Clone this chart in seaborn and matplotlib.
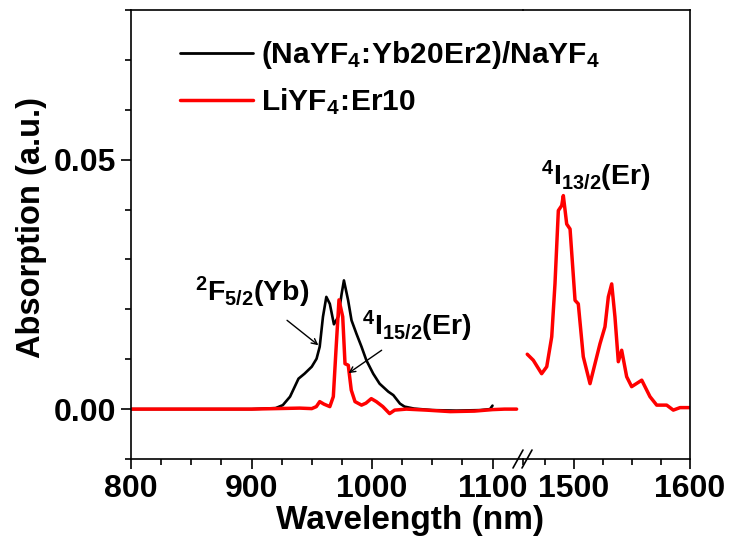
import matplotlib
matplotlib.use("Agg")
import matplotlib.pyplot as plt
import seaborn as sns
import pandas as pd
from matplotlib.lines import Line2D
from matplotlib.ticker import MultipleLocator

# ---------------- data ----------------
black_wl = [800, 850, 900, 920, 926, 932, 939, 944, 950, 954, 956.6, 959.3, 962.1, 965, 968.4,
            972, 974.8, 976.7, 980.2, 983, 987.1, 991.3, 995.3, 1001, 1006.3, 1013.5, 1017.7,
            1023.2, 1027, 1035, 1050, 1070, 1090, 1098, 1100]
black_abs = [0.0, 0.0, 0.0, 0.0002, 0.0008, 0.0025, 0.0061, 0.0071, 0.0085, 0.0101, 0.0125, 0.0185,
             0.0225, 0.0211, 0.0170, 0.0185, 0.0231, 0.0258, 0.0218, 0.0178, 0.0151, 0.0125, 0.0098,
             0.0071, 0.0051, 0.0035, 0.0028, 0.0011, 0.0005, 0.0001, -0.0002, -0.0003, -0.0002, 0.0, 0.0007]

red_left_wl = [800, 850, 900, 940, 950, 953.8, 956.6, 960.1, 965, 967.9, 970.1, 972.6, 975.7, 977.6,
               980.3, 982.8, 985.9, 991.3, 995, 999.4, 1003.6, 1009, 1014.6, 1018.8, 1028.5, 1045,
               1065, 1085, 1100, 1110, 1120]
red_left_abs = [0.0, 0.0, 0.0, 0.0002, 0.0001, 0.0005, 0.0015, 0.0010, 0.0005, 0.0025, 0.0118, 0.0219,
                0.0185, 0.0091, 0.0088, 0.0038, 0.0015, 0.0008, 0.0012, 0.0021, 0.0015, 0.0005, -0.0009,
                -0.0002, 0.0, -0.0002, -0.0005, -0.0004, -0.0001, 0.0, 0.0]

red_right_wl = [1459.7, 1464.9, 1472.1, 1476.5, 1480.8, 1483.6, 1486.5, 1489.4, 1490.8, 1493.7, 1496.6,
                1500.9, 1503.7, 1508, 1513.8, 1518.1, 1522.4, 1526.7, 1529.6, 1532.5, 1535.3, 1538.2,
                1541.1, 1545.4, 1549.7, 1558.4, 1565.5, 1571.3, 1579.9, 1585.6, 1591.4, 1600]
red_right_abs = [0.0110, 0.0098, 0.0071, 0.0085, 0.0145, 0.0251, 0.0398, 0.0408, 0.0428, 0.0371, 0.0361,
                 0.0218, 0.0211, 0.0105, 0.0051, 0.0091, 0.0131, 0.0165, 0.0225, 0.0251, 0.0185, 0.0095,
                 0.0118, 0.0065, 0.0045, 0.0058, 0.0025, 0.0008, 0.0008, -0.0002, 0.0003, 0.0003]

label_black = r'$\mathbf{(NaYF_4\!:\!Yb20Er2)/NaYF_4}$'
label_red = r'$\mathbf{LiYF_4\!:\!Er10}$'
left_ticks = [800, 900, 1000, 1100]
right_ticks = [1500, 1600]
y_ticks = [0.00, 0.05]

# ---------------- style ----------------
sns.set_style("ticks")
plt.rcParams['font.family'] = ['Liberation Sans', 'DejaVu Sans']
plt.rcParams['font.weight'] = 'bold'
plt.rcParams['mathtext.fontset'] = 'custom'
plt.rcParams['mathtext.rm'] = 'Liberation Sans:bold'
plt.rcParams['mathtext.bf'] = 'Liberation Sans:bold'
plt.rcParams['mathtext.it'] = 'Liberation Sans:bold'
plt.rcParams['mathtext.default'] = 'bf'
for k in ('text.color', 'axes.labelcolor', 'xtick.color', 'ytick.color', 'axes.edgecolor'):
    plt.rcParams[k] = 'black'

W, H = 730, 541
fig = plt.figure(figsize=(W / 100, H / 100), dpi=100)

x0, xb, x1 = 131, 523, 690
ybot, ytop = 459, 10
axR = fig.add_axes([xb / W, (H - ybot) / H, (x1 - xb) / W, (ybot - ytop) / H])
axL = fig.add_axes([x0 / W, (H - ybot) / H, (xb - x0) / W, (ybot - ytop) / H], sharey=axR)
axL.set_zorder(3)
axL.patch.set_visible(False)

df_black = pd.DataFrame({"wl": black_wl, "a": black_abs})
df_redL = pd.DataFrame({"wl": red_left_wl, "a": red_left_abs})
df_redR = pd.DataFrame({"wl": red_right_wl, "a": red_right_abs})

sns.lineplot(data=df_black, x="wl", y="a", ax=axL, color="black", lw=1.9, label=label_black, sort=False)
sns.lineplot(data=df_redL, x="wl", y="a", ax=axL, color="#ff0000", lw=2.5, label=label_red, sort=False)
sns.lineplot(data=df_redR, x="wl", y="a", ax=axR, color="#ff0000", lw=2.5, sort=False, legend=False)

axL.set_xlim(800, 800 + (xb - x0) / 1.205)
axR.set_xlim(1600 - (x1 - xb) / 1.16, 1600)
axL.set_ylim(-0.01, 0.08)

for ax in (axL, axR):
    for s in ax.spines.values():
        s.set_linewidth(1.2)
        s.set_color("black")
    ax.tick_params(axis='both', which='major', direction='out', length=7, width=1.2,
                   labelsize=23, colors='black')
    ax.tick_params(axis='both', which='minor', direction='out', length=4, width=1.2)
    ax.set_xlabel("")
    ax.set_ylabel("")

axL.spines['right'].set_visible(False)
axR.spines['left'].set_visible(False)
axR.tick_params(axis='y', which='both', left=False, labelleft=False)

axL.set_xticks(left_ticks)
axL.xaxis.set_minor_locator(MultipleLocator(25))
axR.set_xticks(right_ticks)
axR.xaxis.set_minor_locator(MultipleLocator(25))
axL.set_yticks(y_ticks)
axL.set_yticklabels(["0.00", "0.05"])
axL.yaxis.set_minor_locator(MultipleLocator(0.01))
for lab in axL.get_xticklabels() + axR.get_xticklabels() + axL.get_yticklabels():
    lab.set_fontweight('bold')

fig.text(32 / W, 1 - 228 / H, "Absorption (a.u.)", fontsize=23.5, fontweight='bold',
         rotation=90, ha='center', va='center')
fig.text(410 / W, 1 - 520 / H, "Wavelength (nm)", fontsize=24, fontweight='bold',
         ha='center', va='center')

leg = axL.legend(loc='upper left', bbox_to_anchor=(180 / W, 1 - 39 / H),
                 bbox_transform=fig.transFigure, frameon=False, fontsize=21.5,
                 handlelength=2.45, handletextpad=0.27, labelspacing=0.52, borderaxespad=0,
                 borderpad=0)
for h in leg.get_lines():
    h.set_linewidth(2.5 if h.get_color() != 'black' else 2.0)

# annotations
axL.text(900.4, 0.0233, r'${}^{2}F_{5/2}(Yb)$', fontsize=20.5, ha='center', va='center')
axL.annotate('', xy=(955.5, 0.0128), xytext=(929.5, 0.0178),
             arrowprops=dict(arrowstyle='->', color='black', lw=1.0, shrinkA=0, shrinkB=0))
axL.text(1037.3, 0.0166, r'${}^{4}I_{15/2}(Er)$', fontsize=20.5, ha='center', va='center')
axL.annotate('', xy=(980.5, 0.0072), xytext=(1008, 0.0118),
             arrowprops=dict(arrowstyle='->', color='black', lw=1.0, shrinkA=0, shrinkB=0))
axR.text(1518.5, 0.0466, r'${}^{4}I_{13/2}(Er)$', fontsize=20.5, ha='center', va='center')

# break marks
for dx in (0, 9):
    fig.add_artist(Line2D([(513 + dx) / W, (523 + dx) / W], [(H - 468) / H, (H - 450) / H],
                          color='black', lw=1.2, transform=fig.transFigure))

fig.savefig("out.png", dpi=100)
